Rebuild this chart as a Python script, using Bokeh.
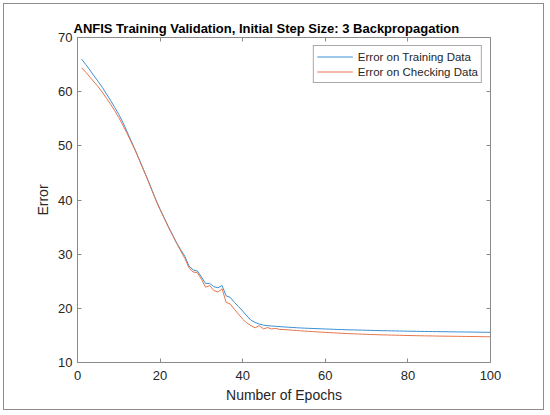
from bokeh.plotting import figure
from bokeh.models import LinearAxis, FixedTicker, Legend, LegendItem
from bokeh.embed import file_html
from bokeh.resources import INLINE

epochs = list(range(1, 101))

train_err = [
    66.0, 65.0, 64.0, 62.9, 61.9, 60.8, 59.6, 58.4, 57.1, 55.8,
    54.3, 52.6, 50.9, 49.2, 47.4, 45.6, 43.8, 41.9, 40.0, 38.3,
    36.7, 35.1, 33.6, 32.1, 30.8, 29.6, 27.8, 27.1, 26.9, 25.8,
    24.6, 24.6, 24.0, 23.8, 24.2, 22.3, 22.0, 21.1, 20.3, 19.5,
    18.6, 17.8, 17.4, 17.1, 16.9, 16.80, 16.74, 16.68, 16.62, 16.57,
    16.52, 16.47, 16.42, 16.38, 16.34, 16.31, 16.28, 16.25, 16.22, 16.19,
    16.16, 16.13, 16.10, 16.08, 16.05, 16.03, 16.01, 15.99, 15.97, 15.95,
    15.93, 15.91, 15.89, 15.87, 15.86, 15.84, 15.83, 15.81, 15.80, 15.78,
    15.77, 15.76, 15.74, 15.73, 15.72, 15.71, 15.70, 15.69, 15.68, 15.67,
    15.66, 15.65, 15.64, 15.63, 15.62, 15.61, 15.60, 15.59, 15.58, 15.57,
]

check_err = [
    64.4, 63.6, 62.7, 61.8, 60.9, 59.9, 58.8, 57.7, 56.5, 55.2,
    53.8, 52.3, 50.7, 49.1, 47.3, 45.5, 43.7, 41.8, 39.9, 38.2,
    36.6, 35.0, 33.5, 32.0, 30.6, 29.2, 27.5, 26.7, 26.6, 25.4,
    23.9, 24.2, 23.3, 23.0, 23.6, 21.1, 20.8, 19.8, 18.9, 18.0,
    17.3, 16.8, 16.4, 16.8, 16.2, 16.45, 16.20, 16.30, 16.10, 16.08,
    16.02, 15.97, 15.92, 15.85, 15.80, 15.75, 15.70, 15.65, 15.60, 15.56,
    15.52, 15.48, 15.44, 15.40, 15.36, 15.32, 15.29, 15.26, 15.23, 15.20,
    15.17, 15.15, 15.12, 15.10, 15.08, 15.06, 15.04, 15.02, 15.00, 14.98,
    14.97, 14.95, 14.94, 14.92, 14.91, 14.90, 14.88, 14.87, 14.86, 14.85,
    14.84, 14.83, 14.82, 14.81, 14.80, 14.79, 14.78, 14.77, 14.76, 14.75,
]

x_ticks = [0, 20, 40, 60, 80, 100]
y_ticks = [10, 20, 30, 40, 50, 60, 70]

title_text = "ANFIS Training Validation, Initial Step Size: 3 Backpropagation"
series_labels = ["Error on Training Data", "Error on Checking Data"]

FONT = "Liberation Sans"
AXIS_COLOR = "#8a8a8a"
TEXT_COLOR = "#262626"

p = figure(width=541, height=407, x_range=(0, 100), y_range=(10, 70),
           output_backend="svg", toolbar_location=None,
           min_border_left=73, min_border_right=55,
           min_border_top=33, min_border_bottom=49,
           title=title_text)
p.styles = {"border": "1px solid #8c8c8c",
            "margin-left": "3px", "margin-top": "3px"}
p.background_fill_color = "white"
p.border_fill_color = "white"
p.outline_line_color = AXIS_COLOR
p.xgrid.visible = False
p.ygrid.visible = False

p.title.text_font = FONT
p.title.text_font_size = "13px"
p.title.text_font_style = "bold"
p.title.text_color = "#000000"
p.title.align = "left"
p.title.offset = -4
p.title.standoff = 3

r1 = p.line(epochs, train_err, line_color="#3a8fd4", line_width=1)
r2 = p.line(epochs, check_err, line_color="#e6764c", line_width=1)

def style_axis(ax, labels=True):
    ax.axis_line_color = AXIS_COLOR
    ax.major_tick_line_color = AXIS_COLOR
    ax.major_tick_in = 4
    ax.major_tick_out = 0
    ax.minor_tick_in = 0
    ax.minor_tick_out = 0
    ax.minor_tick_line_color = None
    ax.major_label_text_font = FONT
    ax.major_label_text_font_size = "13px"
    ax.major_label_text_color = TEXT_COLOR
    ax.axis_label_text_font = FONT
    ax.axis_label_text_font_size = "14px"
    ax.axis_label_text_font_style = "normal"
    ax.axis_label_text_color = TEXT_COLOR
    if not labels:
        ax.major_label_text_font_size = "0px"
        ax.major_label_text_color = None
        ax.major_label_standoff = 0

style_axis(p.xaxis[0])
style_axis(p.yaxis[0])
p.xaxis[0].ticker = FixedTicker(ticks=x_ticks)
p.yaxis[0].ticker = FixedTicker(ticks=y_ticks)
p.xaxis[0].axis_label = "Number of Epochs"
p.yaxis[0].axis_label = "Error"
p.xaxis[0].major_label_standoff = 8
p.xaxis[0].axis_label_standoff = 4
p.yaxis[0].major_label_standoff = 5
p.yaxis[0].axis_label_standoff = 4

top_axis = LinearAxis(ticker=FixedTicker(ticks=x_ticks))
style_axis(top_axis, labels=False)
p.add_layout(top_axis, "above")
right_axis = LinearAxis(ticker=FixedTicker(ticks=y_ticks))
style_axis(right_axis, labels=False)
p.add_layout(right_axis, "right")

legend = Legend(items=[LegendItem(label=series_labels[0], renderers=[r1]),
                       LegendItem(label=series_labels[1], renderers=[r2])],
                location="top_right")
legend.margin = 8
legend.padding = 3
legend.spacing = 0
legend.glyph_width = 36
legend.glyph_height = 15
legend.label_height = 15
legend.label_standoff = 5
legend.label_text_font = FONT
legend.label_text_font_size = "11.5px"
legend.label_text_color = TEXT_COLOR
legend.border_line_color = "#555555"
legend.border_line_width = 1
legend.background_fill_color = "white"
legend.background_fill_alpha = 1.0
p.add_layout(legend, "center")

open("out.html", "w").write(file_html(p, INLINE))
